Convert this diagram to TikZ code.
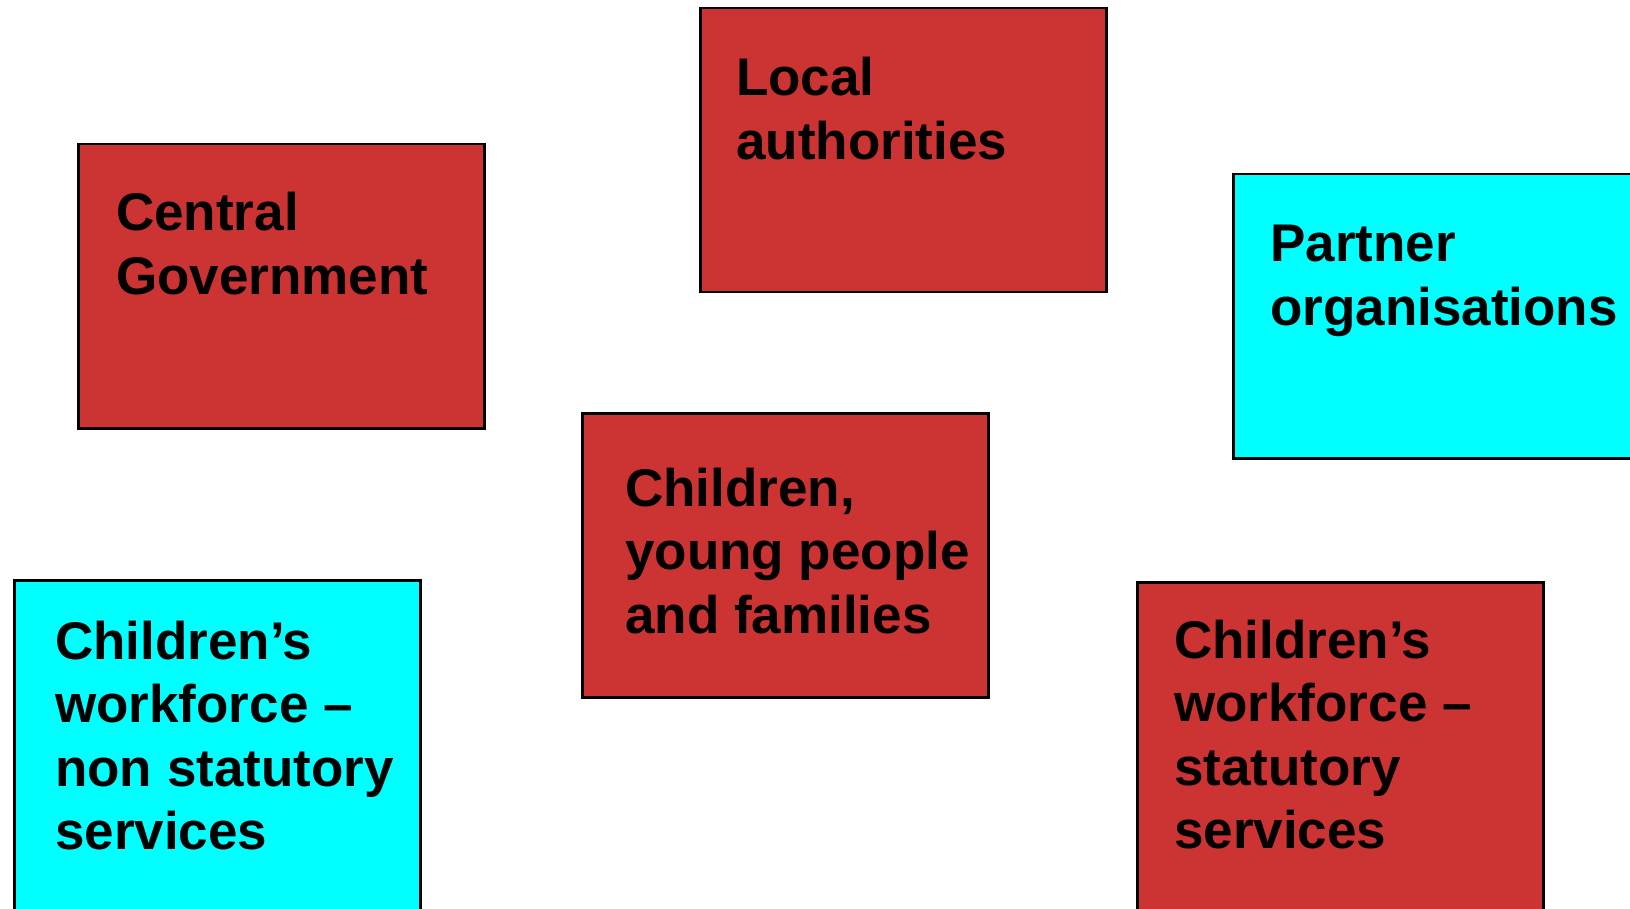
\documentclass[tikz,border=0pt]{standalone}
\usepackage{fontspec}
\setmainfont{Liberation Sans}
\definecolor{boxred}{HTML}{CC3333}
\definecolor{boxcyan}{HTML}{00FFFF}
\tikzset{
  card/.style={draw=black, line width=2.5pt, minimum width=406pt, minimum height=284pt, anchor=north west, inner sep=0pt},
  tall/.style={minimum height=420pt},
  redcard/.style={card, fill=boxred},
  cyancard/.style={card, fill=boxcyan},
  lbl/.style={anchor=base west, inner sep=0pt, font=\fontsize{53}{63.5}\selectfont\bfseries}
}
\newcommand{\cardtext}[1]{\parbox[t]{500pt}{\raggedright #1}}
\begin{document}
\begin{tikzpicture}[x=1pt,y=-1pt]
\fill[white] (0,0) rectangle (1630,909);
\clip (0,0) rectangle (1630,909);
\node[redcard] (cg) at (77,143) {};
\node[lbl] (cgt) at (116,231) {\cardtext{Central\\Government}};
\node[redcard] (la) at (699,7) {};
\node[lbl] (lat) at (736,96) {\cardtext{Local\\authorities}};
\node[cyancard] (po) at (1232,173) {};
\node[lbl] (pot) at (1270,262) {\cardtext{Partner\\organisations}};
\node[redcard] (cy) at (581,412) {};
\node[lbl] (cyt) at (625,506) {\cardtext{Children,\\young people\\and families}};
\node[cyancard, tall] (ns) at (13,579) {};
\node[lbl] (nst) at (55,659) {\cardtext{Children’s\\workforce –\\non statutory\\services}};
\node[redcard, tall] (st) at (1136,581) {};
\node[lbl] (stt) at (1174,658) {\cardtext{Children’s\\workforce –\\statutory\\services}};
\end{tikzpicture}
\end{document}
